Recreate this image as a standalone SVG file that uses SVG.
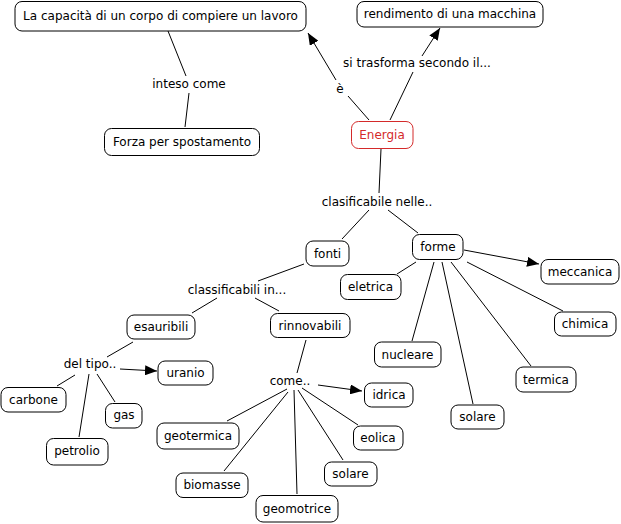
<svg xmlns="http://www.w3.org/2000/svg" width="621" height="524" viewBox="0 0 621 524">
<defs>
<marker id="arr" viewBox="0 0 12 10" refX="12" refY="5" markerWidth="12" markerHeight="10" markerUnits="userSpaceOnUse" orient="auto">
<path d="M0,0 L12,5 L0,10 z" fill="#000"/>
</marker>
<style>
.box{fill:#fff;stroke:#000;stroke-width:1}
.red{fill:#fff;stroke:#d42a2a;stroke-width:1}
text{font-family:"DejaVu Sans",Verdana,sans-serif;font-size:12px;fill:#000;text-anchor:middle}
.rt{fill:#d42a2a}
.c line{stroke:#000;stroke-width:1}
</style>
</defs>
<rect width="621" height="524" fill="#fff"/>
<g class="c" id="connectors">
<line x1="168" y1="31" x2="186" y2="76"/>
<line x1="189" y1="93" x2="185" y2="127"/>
<line x1="369" y1="120" x2="348" y2="96"/>
<line x1="336" y1="80" x2="308" y2="33" marker-end="url(#arr)"/>
<line x1="390" y1="120" x2="413" y2="72"/>
<line x1="422" y1="56" x2="440" y2="28" marker-end="url(#arr)"/>
<line x1="381" y1="149" x2="379" y2="193"/>
<line x1="369" y1="210" x2="342" y2="239"/>
<line x1="388" y1="210" x2="418" y2="233"/>
<line x1="304" y1="264" x2="258" y2="281"/>
<line x1="217" y1="298" x2="192" y2="313"/>
<line x1="255" y1="298" x2="279" y2="311"/>
<line x1="133" y1="342" x2="107" y2="357"/>
<line x1="120" y1="369" x2="157" y2="371" marker-end="url(#arr)"/>
<line x1="75" y1="375" x2="57" y2="386"/>
<line x1="89" y1="374" x2="79" y2="437"/>
<line x1="97" y1="374" x2="115" y2="402"/>
<line x1="306" y1="340" x2="297" y2="373"/>
<line x1="318" y1="385" x2="362" y2="391" marker-end="url(#arr)"/>
<line x1="287" y1="389" x2="227" y2="421"/>
<line x1="288" y1="392" x2="224" y2="471"/>
<line x1="294" y1="390" x2="297" y2="494"/>
<line x1="298" y1="390" x2="343" y2="460"/>
<line x1="302" y1="388" x2="358" y2="425"/>
<line x1="416" y1="262" x2="397" y2="274"/>
<line x1="464" y1="250" x2="539" y2="264" marker-end="url(#arr)"/>
<line x1="467" y1="262" x2="563" y2="311"/>
<line x1="451" y1="262" x2="531" y2="366"/>
<line x1="442" y1="262" x2="473" y2="404"/>
<line x1="434" y1="262" x2="412" y2="341"/>
</g>
<g id="n-capacita"><rect class="box" x="15" y="1.5" width="291" height="29.5" rx="7"/><text x="160.5" y="20">La capacità di un corpo di compiere un lavoro</text></g>
<g id="n-rendimento"><rect class="box" x="357" y="1.5" width="186" height="25.5" rx="7"/><text x="450" y="18">rendimento di una macchina</text></g>
<g id="l-inteso"><text x="189" y="88">inteso come</text></g>
<g id="n-forza"><rect class="box" x="104.5" y="128.5" width="155" height="27" rx="7"/><text x="182" y="146">Forza per spostamento</text></g>
<g id="l-e"><text x="340" y="93">è</text></g>
<g id="l-sitrasforma"><text x="417" y="67">si trasforma secondo il...</text></g>
<g id="n-energia"><rect class="red" x="351.5" y="121.5" width="61.5" height="27" rx="7"/><text class="rt" x="382" y="139">Energia</text></g>
<g id="l-clasificabile"><text x="377" y="206">clasificabile nelle..</text></g>
<g id="n-fonti"><rect class="box" x="306" y="241" width="43" height="25" rx="7"/><text x="327.5" y="258">fonti</text></g>
<g id="n-forme"><rect class="box" x="412.5" y="234.5" width="50.5" height="25" rx="7"/><text x="438" y="251">forme</text></g>
<g id="n-eletrica"><rect class="box" x="340.5" y="274.5" width="60.5" height="25" rx="7"/><text x="370.5" y="291">eletrica</text></g>
<g id="l-classificabili"><text x="237" y="294">classificabili in...</text></g>
<g id="n-rinnovabili"><rect class="box" x="270.5" y="313.5" width="79.5" height="24" rx="7"/><text x="310" y="330">rinnovabili</text></g>
<g id="n-esauribili"><rect class="box" x="127" y="315" width="68" height="24" rx="7"/><text x="161" y="331">esauribili</text></g>
<g id="l-deltipo"><text x="90" y="368">del tipo..</text></g>
<g id="n-uranio"><rect class="box" x="158" y="361" width="55" height="24" rx="7"/><text x="185.5" y="377">uranio</text></g>
<g id="n-carbone"><rect class="box" x="1" y="387.5" width="65" height="24.5" rx="7"/><text x="33.5" y="404">carbone</text></g>
<g id="n-petrolio"><rect class="box" x="46.5" y="438.5" width="61.5" height="26.5" rx="7"/><text x="77" y="455">petrolio</text></g>
<g id="n-gas"><rect class="box" x="105.5" y="403.5" width="36.5" height="24.5" rx="7"/><text x="124" y="419">gas</text></g>
<g id="l-come"><text x="290" y="385">come..</text></g>
<g id="n-idrica"><rect class="box" x="364.5" y="383" width="48.5" height="24" rx="7"/><text x="389" y="399">idrica</text></g>
<g id="n-geotermica"><rect class="box" x="157" y="423" width="82" height="26" rx="7"/><text x="198" y="440">geotermica</text></g>
<g id="n-biomasse"><rect class="box" x="176" y="473" width="72" height="24.5" rx="7"/><text x="212" y="489">biomasse</text></g>
<g id="n-geomotrice"><rect class="box" x="256" y="495.5" width="82" height="26.5" rx="7"/><text x="297" y="513">geomotrice</text></g>
<g id="n-solare1"><rect class="box" x="324.5" y="462" width="52.5" height="24" rx="7"/><text x="350.5" y="478">solare</text></g>
<g id="n-eolica"><rect class="box" x="353.5" y="426" width="49.5" height="24" rx="7"/><text x="378" y="442">eolica</text></g>
<g id="n-meccanica"><rect class="box" x="541" y="259.5" width="78" height="24.5" rx="7"/><text x="580" y="276">meccanica</text></g>
<g id="n-chimica"><rect class="box" x="554.5" y="312" width="61.5" height="24" rx="7"/><text x="585" y="328">chimica</text></g>
<g id="n-termica"><rect class="box" x="516" y="367" width="60" height="25" rx="7"/><text x="546" y="384">termica</text></g>
<g id="n-solare2"><rect class="box" x="451" y="405" width="53" height="24" rx="7"/><text x="477.5" y="421">solare</text></g>
<g id="n-nucleare"><rect class="box" x="374.5" y="342" width="66.5" height="25" rx="7"/><text x="407.5" y="359">nucleare</text></g>
</svg>
